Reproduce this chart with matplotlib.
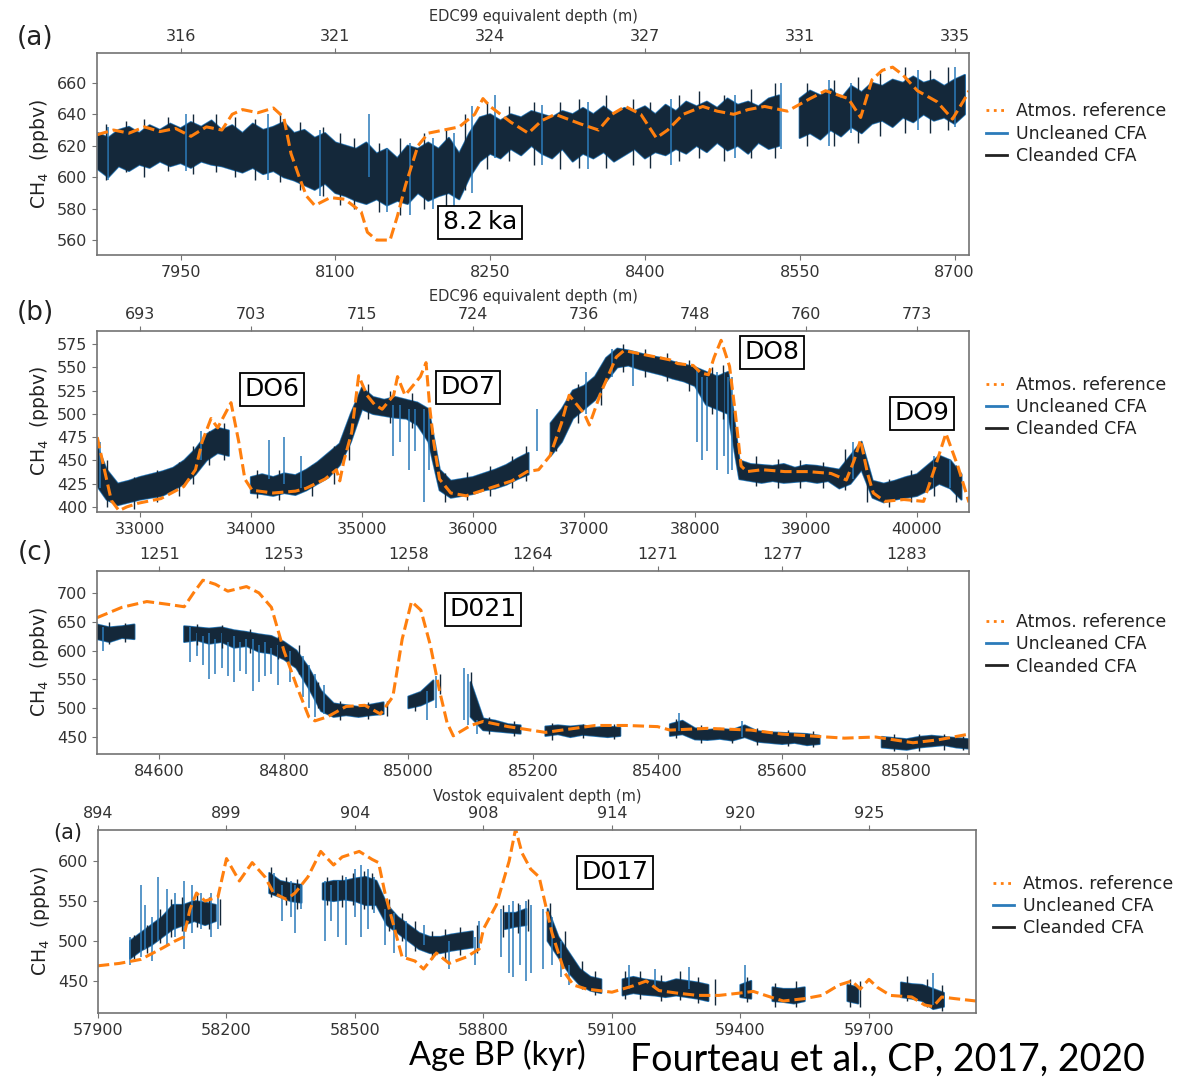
import numpy as np
import matplotlib
matplotlib.use("Agg")
import matplotlib.pyplot as plt
from matplotlib.lines import Line2D

nan = np.nan

# ---------------- panel (a): 8.2 ka event, EDC99 ----------------
a_xticks = [7950, 8100, 8250, 8400, 8550, 8700]
a_depths = ["316", "321", "324", "327", "331", "335"]
a_yticks = [560, 580, 600, 620, 640, 660]
a_age = np.arange(7870, 8711, 10)
a_lo = [605, 600, 607, 604, 608, 606, 610, 607, 609, 606,
        610, 608, 607, 605, 603, 606, 602, 604, 600, 598,
        595, 592, 596, 590, 588, 585, 583, 586, 582, 585,
        583, 590, 585, 588, 590, 586, 600, 610, 615, 612,
        618, 614, 620, 615, 612, 618, 610, 615, 612, 616,
        610, 614, 618, 612, 616, 614, 618, 615, 620, 616,
        622, 617, 620, 615, 622, 618, 620, nan, 625, 628,
        624, 630, 626, 632, 628, 634, 636, 632, 638, 635,
        640, 636, 638, 634, 640]
a_hi = [628, 625, 630, 632, 628, 633, 630, 634, 631, 635,
        632, 636, 630, 633, 628, 634, 630, 632, 635, 628,
        630, 625, 628, 622, 620, 618, 622, 615, 618, 612,
        620, 618, 622, 618, 625, 615, 628, 638, 640, 636,
        640, 638, 642, 640, 638, 642, 640, 644, 640, 645,
        640, 644, 642, 645, 640, 646, 642, 648, 645, 648,
        644, 650, 646, 648, 645, 650, 652, nan, 650, 655,
        652, 656, 650, 658, 654, 660, 658, 662, 660, 664,
        660, 662, 658, 662, 665]
# cleaned-record outliers poking out of the band
a_nspk_age = [7878, 7897, 7915, 7938, 7962, 7984, 8003, 8022, 8046, 8066,
              8088, 8104, 8118, 8142, 8163, 8186, 8207, 8226, 8247, 8268,
              8292, 8318, 8336, 8362, 8388, 8405, 8433, 8452, 8477, 8503,
              8526, 8557, 8583, 8606, 8628, 8652, 8676, 8694]
a_nspk_lo = [598, 603, 600, 604, 602, 603, 600, 598, 597, 592,
             588, 582, 580, 578, 576, 580, 578, 592, 605, 610,
             608, 605, 606, 606, 608, 606, 610, 612, 610, 612,
             612, 620, 620, 622, 626, 628, 628, 630]
a_nspk_hi = [634, 636, 637, 638, 640, 640, 638, 637, 640, 635,
             632, 628, 625, 622, 625, 628, 630, 640, 648, 645,
             648, 648, 650, 652, 650, 648, 652, 655, 652, 656,
             660, 660, 662, 664, 666, 670, 668, 670]
# uncleaned-record spikes
a_spk_age = [7880, 7955, 8035, 8085, 8133, 8150, 8172, 8195, 8215, 8232,
             8255, 8300, 8345, 8425, 8487, 8532, 8578, 8600, 8665, 8700]
a_spk_lo = [598, 604, 598, 588, 600, 578, 576, 580, 580, 590,
            612, 608, 605, 608, 612, 618, 620, 628, 630, 632]
a_spk_hi = [632, 640, 640, 630, 640, 618, 622, 625, 628, 645,
            652, 646, 648, 650, 652, 660, 662, 660, 668, 670]
a_ref_age = [7869, 7885, 7900, 7915, 7930, 7945, 7960, 7975, 7990, 8000,
             8010, 8025, 8040, 8050, 8057, 8065, 8072, 8080, 8095, 8109,
             8117, 8125, 8131, 8140, 8153, 8160, 8168, 8180, 8190, 8205,
             8220, 8235, 8243, 8250, 8260, 8270, 8287, 8300, 8313, 8325,
             8337, 8355, 8368, 8381, 8396, 8411, 8422, 8437, 8456, 8470,
             8486, 8500, 8516, 8538, 8560, 8575, 8597, 8609, 8620, 8630,
             8640, 8650, 8664, 8683, 8698, 8710, 8714]
a_ref = [627, 630, 628, 632, 629, 631, 626, 632, 630, 640,
         643, 641, 644, 638, 615, 600, 588, 582, 587, 586,
         582, 578, 565, 560, 560, 575, 595, 620, 628, 630,
         632, 640, 650, 645, 640, 635, 628, 636, 640, 637,
         634, 630, 640, 645, 640, 625, 630, 640, 645, 642,
         640, 643, 645, 642, 650, 655, 650, 638, 662, 668,
         670, 665, 655, 648, 637, 650, 655]

# ---------------- panel (b): DO6-DO9, EDC96 ----------------
b_xticks = [33000, 34000, 35000, 36000, 37000, 38000, 39000, 40000]
b_depths = ["693", "703", "715", "724", "736", "748", "760", "773"]
b_yticks = [400, 425, 450, 475, 500, 525, 550, 575]
b_age = np.arange(32600, 40401, 100)
b_lo = [425, 408, 402, 405, 408, 410, 412, 418, 425, 435,
        450, 458, 455, nan, 415, 414, 412, 415, 413, 418,
        425, 432, 445, 470, 505, 500, 498, 496, 495, 488,
        470, 418, 410, 412, 414, 418, 420, 424, 430, 435,
        nan, 455, 470, 495, 505, 515, 535, 550, 552, 548,
        545, 542, 538, 535, 530, 510, 505, 500, 430, 428,
        426, 428, 426, 427, 428, 426, 428, 420, 425, 440,
        410, 405, 408, 410, 412, 418, 425, 420, 408]
b_hi = [470, 440, 425, 428, 432, 435, 438, 442, 450, 462,
        478, 485, 482, nan, 432, 435, 432, 436, 434, 440,
        448, 458, 468, 500, 528, 518, 515, 518, 515, 512,
        505, 440, 428, 430, 432, 436, 440, 445, 452, 458,
        nan, 490, 505, 525, 530, 540, 560, 570, 568, 565,
        562, 560, 556, 553, 550, 545, 540, 545, 450, 446,
        445, 444, 446, 442, 445, 444, 442, 440, 455, 470,
        428, 425, 428, 432, 435, 445, 455, 450, 435]
b_nspk_age = [32700, 32950, 33150, 33350, 33480, 33620, 33760, 34050, 34250, 34550,
              34750, 34880, 35050, 35250, 35450, 35750, 35950, 36150, 36350, 36480,
              36750, 36950, 37150, 37350, 37550, 37750, 37950, 38150, 38250, 38550,
              38750, 38950, 39150, 39350, 39550, 39750, 39950, 40150, 40350]
b_nspk_lo = [400, 398, 405, 412, 425, 445, 450, 410, 408, 412,
             425, 450, 495, 490, 485, 405, 408, 412, 420, 428,
             460, 490, 510, 545, 540, 535, 525, 500, 495, 422,
             420, 420, 420, 418, 405, 400, 405, 412, 405]
b_nspk_hi = [450, 432, 440, 448, 465, 482, 490, 440, 440, 445,
             465, 490, 532, 525, 522, 436, 438, 444, 455, 465,
             498, 532, 548, 575, 570, 565, 558, 550, 552, 455,
             452, 450, 448, 462, 440, 430, 440, 452, 445]
b_spk_age = [32640, 33550, 34160, 34300, 34450, 35280, 35340, 35420, 35480, 35560,
             35600, 36580, 37020, 37250, 37440, 38020, 38060, 38110, 38200, 38260,
             38300, 38330, 39420, 40150, 40300]
b_spk_lo = [420, 450, 430, 425, 420, 455, 470, 440, 460, 405,
            440, 460, 500, 540, 530, 470, 450, 460, 440, 455,
            435, 440, 430, 420, 420]
b_spk_hi = [470, 482, 472, 475, 455, 510, 510, 505, 505, 505,
            505, 505, 545, 570, 565, 550, 540, 540, 545, 545,
            540, 540, 470, 455, 450]
b_ref_age = [32615, 32674, 32742, 32811, 32880, 32983, 33189, 33395, 33500, 33560,
             33640, 33700, 33820, 33890, 33945, 34010, 34200, 34400, 34495, 34667,
             34770, 34800, 34838, 34907, 34970, 35045, 35113, 35182, 35285, 35320,
             35388, 35457, 35526, 35577, 35612, 35646, 35698, 35800, 35938, 36144,
             36350, 36488, 36591, 36694, 36797, 36866, 36935, 37003, 37048, 37149,
             37291, 37360, 37568, 37775, 37844, 37983, 38052, 38121, 38173, 38235,
             38311, 38363, 38415, 38467, 38606, 38810, 39017, 39225, 39363, 39433,
             39491, 39554, 39606, 39709, 39882, 40059, 40163, 40260, 40370, 40468]
b_ref = [475, 443, 407, 396, 400, 404, 409, 422, 440, 470,
         495, 485, 512, 470, 430, 418, 415, 417, 420, 430,
         440, 428, 450, 480, 541, 520, 510, 505, 520, 540,
         520, 530, 540, 555, 505, 470, 430, 415, 412, 420,
         428, 438, 440, 455, 490, 520, 510, 500, 488, 522,
         561, 568, 563, 558, 554, 552, 544, 542, 561, 579,
         551, 501, 444, 438, 440, 438, 438, 436, 429, 450,
         472, 436, 415, 406, 408, 406, 443, 479, 443, 405]

# ---------------- panel (c): DO21 ----------------
c_xticks = [84600, 84800, 85000, 85200, 85400, 85600, 85800]
c_depths = ["1251", "1253", "1258", "1264", "1271", "1277", "1283"]
c_yticks = [450, 500, 550, 600, 650, 700]
c_age = np.arange(84500, 85901, 20)
c_lo = [620, 615, 622, 620, nan, nan, nan, 615, 618, 612,
        615, 605, 608, 598, 595, 585, 570, 535, 495, 485,
        488, 485, 488, 490, nan, 500, 505, 515, nan, nan,
        485, 462, 460, 458, 456, nan, 452, 455, 450, 454,
        452, 450, 452, nan, nan, nan, 452, 455, 446, 445,
        447, 444, 450, 442, 440, 438, 440, 436, 438, nan,
        nan, nan, nan, 432, 430, 428, 432, 434, 436, 432,
        430]
c_hi = [645, 640, 642, 645, nan, nan, nan, 642, 640, 638,
        640, 635, 632, 628, 625, 615, 600, 570, 530, 508,
        505, 502, 506, 510, nan, 520, 528, 548, nan, nan,
        545, 482, 478, 472, 470, nan, 468, 470, 468, 470,
        466, 468, 466, nan, nan, nan, 472, 478, 465, 462,
        464, 462, 470, 460, 458, 457, 456, 455, 452, nan,
        nan, nan, nan, 450, 448, 446, 450, 452, 450, 448,
        446]
c_nspk_age = [84520, 84545, 84660, 84700, 84745, 84790, 84825, 84855, 84890, 84935,
              84965, 85010, 85050, 85100, 85130, 85170, 85230, 85280, 85330, 85430,
              85470, 85520, 85560, 85610, 85650, 85780, 85820, 85860, 85890]
c_nspk_lo = [612, 615, 610, 605, 595, 585, 560, 500, 480, 482,
             486, 495, 525, 505, 455, 452, 445, 448, 446, 448,
             440, 440, 436, 434, 432, 426, 425, 428, 428]
c_nspk_hi = [650, 648, 646, 645, 638, 625, 610, 545, 512, 510,
             512, 525, 560, 562, 485, 478, 474, 472, 472, 482,
             470, 466, 466, 462, 460, 455, 455, 456, 452]
c_spk_age = [84510, 84650, 84660, 84680, 84700, 84720, 84740, 84750, 84770, 84790,
             84810, 84830, 84840, 84850, 84865, 85030, 85045, 85090, 85095, 85110,
             85435, 85535, 84670, 84690, 84710, 84730, 84760, 84780]
c_spk_lo = [600, 580, 590, 550, 570, 545, 560, 530, 555, 540,
            545, 520, 500, 485, 490, 480, 500, 480, 470, 455,
            460, 450, 575, 560, 555, 565, 545, 560]
c_spk_hi = [640, 640, 630, 630, 630, 625, 620, 620, 615, 610,
            600, 590, 575, 560, 540, 530, 555, 570, 560, 480,
            492, 478, 625, 620, 615, 615, 610, 605]
c_ref_age = [84500, 84540, 84580, 84615, 84640, 84655, 84670, 84690, 84710, 84740,
             84760, 84780, 84800, 84820, 84840, 84850, 84870, 84900, 84930, 84955,
             84975, 84990, 85005, 85020, 85035, 85050, 85062, 85072, 85100, 85120,
             85160, 85220, 85300, 85350, 85400, 85420, 85480, 85550, 85600, 85700,
             85750, 85810, 85850, 85900]
c_ref = [657, 675, 685, 680, 676, 700, 722, 715, 703, 711,
         700, 675, 600, 540, 485, 478, 485, 503, 505, 490,
         520, 620, 685, 670, 610, 530, 475, 452, 470, 477,
         468, 458, 470, 470, 468, 462, 465, 462, 455, 448,
         450, 440, 445, 455]

# ---------------- panel (d): DO17, Vostok ----------------
d_xticks = [57900, 58200, 58500, 58800, 59100, 59400, 59700]
d_depths = ["894", "899", "904", "908", "914", "920", "925"]
d_yticks = [450, 500, 550, 600]
d_age = np.arange(57900, 59951, 25)
d_lo = [nan, nan, nan, 478, 488, 495, 505, 515, 520, 525,
        520, 525, nan, nan, nan, nan, 560, 555, 550, 548,
        nan, 552, 550, 552, 550, 545, 545, 520, 510, 500,
        490, 485, 485, 488, 490, 492, nan, nan, 515, 518,
        520, nan, 500, 480, 460, 445, 438, 435, nan, 432,
        435, 433, 432, 430, 432, 430, 428, 425, nan, nan,
        430, 428, nan, 425, 424, 422, 425, nan, nan, nan,
        425, 422, nan, nan, nan, 430, 428, 425, 415, 418,
        nan, nan, nan]
d_hi = [nan, nan, nan, 500, 510, 520, 530, 545, 545, 550,
        548, 545, nan, nan, nan, nan, 585, 575, 572, 570,
        nan, 572, 575, 575, 578, 580, 575, 545, 530, 520,
        510, 505, 505, 508, 510, 512, nan, nan, 535, 535,
        540, nan, 540, 505, 485, 465, 455, 452, nan, 452,
        455, 452, 450, 448, 452, 450, 448, 445, nan, nan,
        445, 450, nan, 442, 440, 440, 442, nan, nan, nan,
        445, 442, nan, nan, nan, 448, 446, 445, 440, 435,
        nan, nan, nan]
d_nspk_age = [57985, 58015, 58045, 58070, 58095, 58130, 58160, 58185, 58305, 58340,
              58365, 58435, 58470, 58495, 58520, 58540, 58580, 58610, 58640, 58680,
              58710, 58745, 58785, 58845, 58880, 58905, 58955, 58990, 59030, 59060,
              59130, 59165, 59215, 59260, 59300, 59340, 59415, 59480, 59530, 59655,
              59680, 59790, 59835, 59870]
d_nspk_lo = [475, 485, 498, 505, 512, 518, 515, 520, 555, 545,
             540, 545, 542, 545, 540, 540, 512, 500, 488, 478,
             478, 482, 485, 505, 510, 512, 495, 470, 440, 432,
             428, 428, 425, 426, 422, 420, 424, 418, 418, 418,
             418, 425, 418, 412]
d_nspk_hi = [508, 520, 540, 552, 555, 560, 555, 552, 592, 580,
             578, 580, 582, 585, 588, 585, 552, 535, 525, 512,
             515, 518, 520, 545, 548, 552, 548, 512, 475, 462,
             462, 462, 458, 462, 455, 452, 455, 448, 450, 452,
             450, 456, 452, 445]
d_spk_age = [57975, 58000, 58010, 58025, 58040, 58060, 58080, 58100, 58120, 58140,
             58165, 58180, 58310, 58330, 58350, 58360, 58375, 58430, 58445, 58460,
             58480, 58500, 58515, 58530, 58545, 58570, 58590, 58620, 58660, 58720,
             58780, 58790, 58840, 58860, 58870, 58885, 58900, 58910, 58940, 58960,
             58980, 59000, 59140, 59200, 59280, 59410, 59850]
d_spk_lo = [470, 480, 490, 475, 500, 495, 505, 490, 510, 515,
            505, 515, 560, 525, 530, 510, 540, 500, 525, 505,
            495, 530, 505, 515, 535, 495, 485, 480, 495, 465,
            470, 490, 480, 460, 455, 470, 450, 460, 465, 470,
            455, 445, 440, 440, 440, 430, 420]
d_spk_hi = [505, 570, 545, 530, 580, 565, 560, 575, 570, 560,
            560, 555, 585, 570, 575, 570, 570, 575, 570, 575,
            580, 590, 595, 590, 580, 540, 535, 525, 520, 500,
            505, 525, 540, 545, 550, 545, 550, 545, 540, 530,
            500, 470, 470, 465, 468, 470, 460]
d_ref_age = [57900, 57950, 58000, 58050, 58080, 58100, 58115, 58130, 58150, 58180,
             58200, 58230, 58260, 58290, 58310, 58340, 58360, 58390, 58420, 58450,
             58470, 58510, 58540, 58555, 58570, 58590, 58610, 58640, 58660, 58690,
             58720, 58760, 58790, 58800, 58830, 58860, 58875, 58890, 58910, 58930,
             58960, 58990, 59010, 59040, 59100, 59150, 59180, 59210, 59250, 59300,
             59350, 59400, 59430, 59470, 59500, 59550, 59590, 59630, 59660, 59680,
             59700, 59720, 59750, 59800, 59830, 59850, 59870, 59900, 59950]
d_ref = [469, 472, 477, 491, 500, 505, 540, 560, 550, 555,
         603, 575, 598, 580, 560, 552, 560, 580, 612, 595,
         605, 612, 602, 598, 560, 520, 480, 475, 465, 485,
         472, 480, 490, 515, 545, 600, 640, 610, 590, 580,
         510, 460, 445, 440, 436, 444, 450, 438, 435, 432,
         432, 435, 437, 430, 425, 428, 432, 445, 450, 440,
         452, 442, 432, 430, 420, 418, 430, 428, 425]

ORANGE = "#ff7f0e"
BLUE = "#2b7bba"
NAVY = "#14283a"
W, H = 1181, 1079

fig = plt.figure(figsize=(W / 100, H / 100), dpi=100)


def px_rect(left, top, right, bottom):
    return [left / W, 1 - bottom / H, (right - left) / W, (bottom - top) / H]


def fpos(x, y):
    return x / W, 1 - y / H


def draw_panel(rect, age, lo, hi, nspk, spk, ref_age, ref,
               xlim, ylim, xticks, depths, yticks, leg_y):
    ax = fig.add_axes(rect)
    lo = np.array(lo, dtype=float)
    hi = np.array(hi, dtype=float)
    # uncleaned CFA (halo + spikes) underneath, cleaned CFA on top
    ax.fill_between(age, lo, hi, color=BLUE, lw=1.6)
    ax.vlines(spk[0], spk[1], spk[2], color=BLUE, lw=1.1)
    ax.fill_between(age, lo, hi, color=NAVY, lw=0.4)
    ax.vlines(nspk[0], nspk[1], nspk[2], color=NAVY, lw=1.0)
    ax.plot(ref_age, ref, color=ORANGE, ls="--", lw=2.2)

    ax.set_xlim(*xlim)
    ax.set_ylim(*ylim)
    ax.set_xticks(xticks)
    ax.set_yticks(yticks)
    ax.tick_params(labelsize=11.5, labelcolor="#333333", color="0.45", length=3.5)
    ax.set_ylabel("CH$_4$  (ppbv)", fontsize=13.5, color="#222222", labelpad=4)
    for s in ax.spines.values():
        s.set_color("0.45")
        s.set_linewidth(1.2)

    # top axis: equivalent depth at the same tick positions
    top = ax.twiny()
    top.set_xlim(ax.get_xlim())
    top.set_xticks(xticks)
    top.set_xticklabels(depths)
    top.tick_params(labelsize=11.5, labelcolor="#333333", color="0.45", length=3.5, pad=3)
    for s in top.spines.values():
        s.set_visible(False)

    handles = [Line2D([], [], color=ORANGE, ls=":", lw=2),
               Line2D([], [], color=BLUE, lw=2),
               Line2D([], [], color="#222222", lw=2)]
    ax.legend(handles, ["Atmos. reference", "Uncleaned CFA", "Cleanded CFA"],
              loc="center left", bbox_to_anchor=(1.01, leg_y), frameon=False,
              fontsize=12.5, handlelength=1.2, handletextpad=0.5,
              labelspacing=0.25, borderpad=0, labelcolor="#222222")
    return ax


draw_panel(px_rect(97, 53, 969, 255), a_age, a_lo, a_hi,
           (a_nspk_age, a_nspk_lo, a_nspk_hi), (a_spk_age, a_spk_lo, a_spk_hi),
           a_ref_age, a_ref, (7869, 8714), (550.5, 679), a_xticks, a_depths, a_yticks, 0.60)
draw_panel(px_rect(97, 331, 969, 512), b_age, b_lo, b_hi,
           (b_nspk_age, b_nspk_lo, b_nspk_hi), (b_spk_age, b_spk_lo, b_spk_hi),
           b_ref_age, b_ref, (32613, 40468), (394.6, 589), b_xticks, b_depths, b_yticks, 0.58)
draw_panel(px_rect(97, 571, 969, 754), c_age, c_lo, c_hi,
           (c_nspk_age, c_nspk_lo, c_nspk_hi), (c_spk_age, c_spk_lo, c_spk_hi),
           c_ref_age, c_ref, (84500, 85900), (420.5, 738), c_xticks, c_depths, c_yticks, 0.60)
draw_panel(px_rect(98, 830, 976, 1013), d_age, d_lo, d_hi,
           (d_nspk_age, d_nspk_lo, d_nspk_hi), (d_spk_age, d_spk_lo, d_spk_hi),
           d_ref_age, d_ref, (57900, 59950), (410, 638.75), d_xticks, d_depths, d_yticks, 0.585)

# depth axis titles
for x, y, s in [(533, 17, "EDC99 equivalent depth (m)"),
                (533, 297, "EDC96 equivalent depth (m)"),
                (537, 797, "Vostok equivalent depth (m)")]:
    fig.text(*fpos(x, y), s, fontsize=10.5, color="#333333", ha="center", va="center")

# panel letters
for x, y, s, fs in [(35, 38, "(a)", 19), (35, 313, "(b)", 19), (35, 553, "(c)", 19), (68, 833, "(a)", 15)]:
    fig.text(*fpos(x, y), s, fontsize=fs, color="#222222", ha="center", va="center")

# event labels
for x, y, s in [(480, 222, "8.2\u2009ka"), (272, 389, "DO6"), (468, 387, "DO7"),
                (772, 352, "DO8"), (922, 413, "DO9"), (483, 609, "D021"), (615, 872, "D017")]:
    fig.text(*fpos(x, y), s, fontsize=18, color="black", ha="center", va="center",
             bbox=dict(boxstyle="square,pad=0.18", facecolor="white", edgecolor="black", lw=1.3))

fig.text(*fpos(497, 1055), "Age BP (kyr)", fontsize=23.5, family="Lato", ha="center", va="center")
fig.text(*fpos(887, 1060), "Fourteau et al., CP, 2017, 2020", fontsize=27, family="Lato",
         ha="center", va="center")

fig.savefig("out.png", dpi=100)
